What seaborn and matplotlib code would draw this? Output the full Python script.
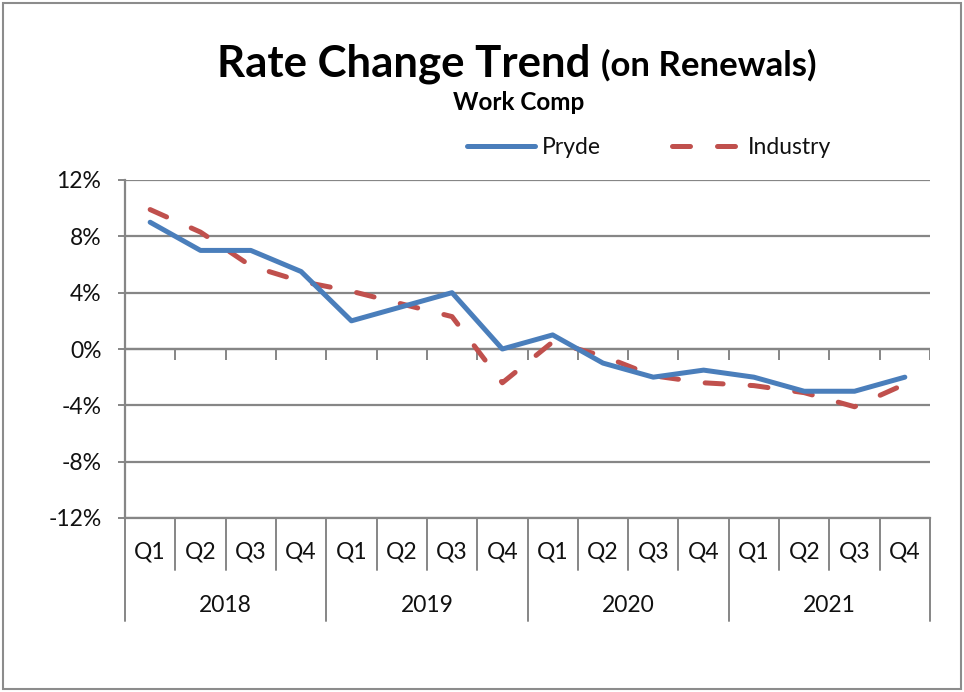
import numpy as np
import pandas as pd
import matplotlib
matplotlib.use("Agg")
import matplotlib.pyplot as plt
import matplotlib.transforms as mtransforms
from matplotlib.lines import Line2D
from matplotlib.patches import Rectangle
from matplotlib.ticker import PercentFormatter
import seaborn as sns

# data (percent)
years = ["2018", "2019", "2020", "2021"]
quarters = ["Q1", "Q2", "Q3", "Q4"]
pryde = [9, 7, 7, 5.5, 2, 3, 4, 0, 1, -1, -2, -1.5, -2, -3, -3, -2]
industry = [9.9, 8.3, 5.9, 4.8, 4.1, 3.2, 2.3, -2.4, 0.5, -0.5, -1.9, -2.4, -2.6, -3.1, -4.1, -2.5]
y_ticks = [-12, -8, -4, 0, 4, 8, 12]

periods = [f"{y} {q}" for y in years for q in quarters]
df = pd.DataFrame({
    "period": periods * 2,
    "rate": pryde + industry,
    "series": ["Pryde"] * len(pryde) + ["Industry"] * len(industry),
})

sns.set_theme(style="white")
plt.rcParams["font.family"] = ["Lato", "DejaVu Sans"]
plt.rcParams["axes.unicode_minus"] = False

blue = "#4a7ebb"
red = "#c0504d"
grey = "#868686"
txt = "#111111"
fs = 16.5
dash = (3.6, 5.4)

fig = plt.figure(figsize=(9.64, 6.92), dpi=100)
ax = fig.add_axes([125 / 964, 1 - 518 / 692, 805 / 964, 338 / 692])

sns.lineplot(data=df, x="period", y="rate", hue="series", style="series",
             palette={"Pryde": blue, "Industry": red},
             dashes={"Pryde": "", "Industry": dash},
             linewidth=3.6, legend=False, ax=ax, sort=False,
             dash_capstyle="round", solid_capstyle="round",
             solid_joinstyle="round", dash_joinstyle="round")
# blue drawn on top like the original
for ln in ax.get_lines():
    ln.set_zorder(4 if ln.get_color() == blue else 3)

n = len(periods)
ax.set_xlim(-0.5, n - 0.5)
ax.set_ylim(-12, 12)
ax.set_yticks(y_ticks)
ax.yaxis.set_major_formatter(PercentFormatter(decimals=0))
ax.set_xticks([])
ax.set_xlabel("")
ax.set_ylabel("")
ax.grid(axis="y", color=grey, linewidth=1.6)
ax.set_axisbelow(True)
for s in ["top", "right"]:
    ax.spines[s].set_visible(False)
for s in ["left", "bottom"]:
    ax.spines[s].set_color(grey)
    ax.spines[s].set_linewidth(1.6)
ax.tick_params(axis="y", left=True, length=5, width=1.4, color=grey,
               pad=12, labelsize=fs, labelcolor=txt)

# horizontal axis crosses at 0 with ticks between categories
ax.axhline(0, color=grey, linewidth=1.6, zorder=2)
bounds = np.arange(n + 1) - 0.5
ax.vlines(bounds, -0.75, 0, color=grey, linewidth=1.4, zorder=2)

# multi-level category labels below the plot
trans = mtransforms.blended_transform_factory(ax.transData, ax.transAxes)
for i, p in enumerate(periods):
    ax.text(i, -0.1, p.split()[1], transform=trans, ha="center", va="center",
            fontsize=fs, color=txt)
for b in bounds:
    is_year = int(b + 0.5) % 4 == 0
    ax.plot([b, b], [0, -0.305 if is_year else -0.155], transform=trans,
            color=grey, linewidth=1.4, clip_on=False)
for k, y in enumerate(years):
    ax.text(4 * k + 1.5, -0.26, y, transform=trans, ha="center", va="center",
            fontsize=fs, color=txt)

# titles
fig.text(590 / 964, 1 - 76 / 692, "Rate Change Trend", ha="right", va="baseline",
         fontsize=31.5, fontweight="bold", color="black")
fig.text(601 / 964, 1 - 76 / 692, "(on Renewals)", ha="left", va="baseline",
         fontsize=25, fontweight="bold", color="black")
fig.text(519 / 964, 1 - 102 / 692, "Work Comp", ha="center", va="center",
         fontsize=17.5, fontweight="bold", color="black")

handles = [
    Line2D([], [], color=blue, linewidth=3.6, solid_capstyle="round"),
    Line2D([], [], color=red, linewidth=3.6, dashes=dash, dash_capstyle="round"),
]
fig.legend(handles, ["Pryde", "Industry"], loc="center",
           bbox_to_anchor=(649 / 964, 1 - 148 / 692), ncol=2, frameon=False,
           fontsize=fs, handlelength=3.0, handletextpad=0.3, columnspacing=3.1,
           labelcolor=txt)

# outer chart border
fig.patches.append(Rectangle((0.003, 0.004), 0.994, 0.992, transform=fig.transFigure,
                             fill=False, edgecolor="#8c8c8c", linewidth=1.5))

fig.savefig("out.png", dpi=100)
